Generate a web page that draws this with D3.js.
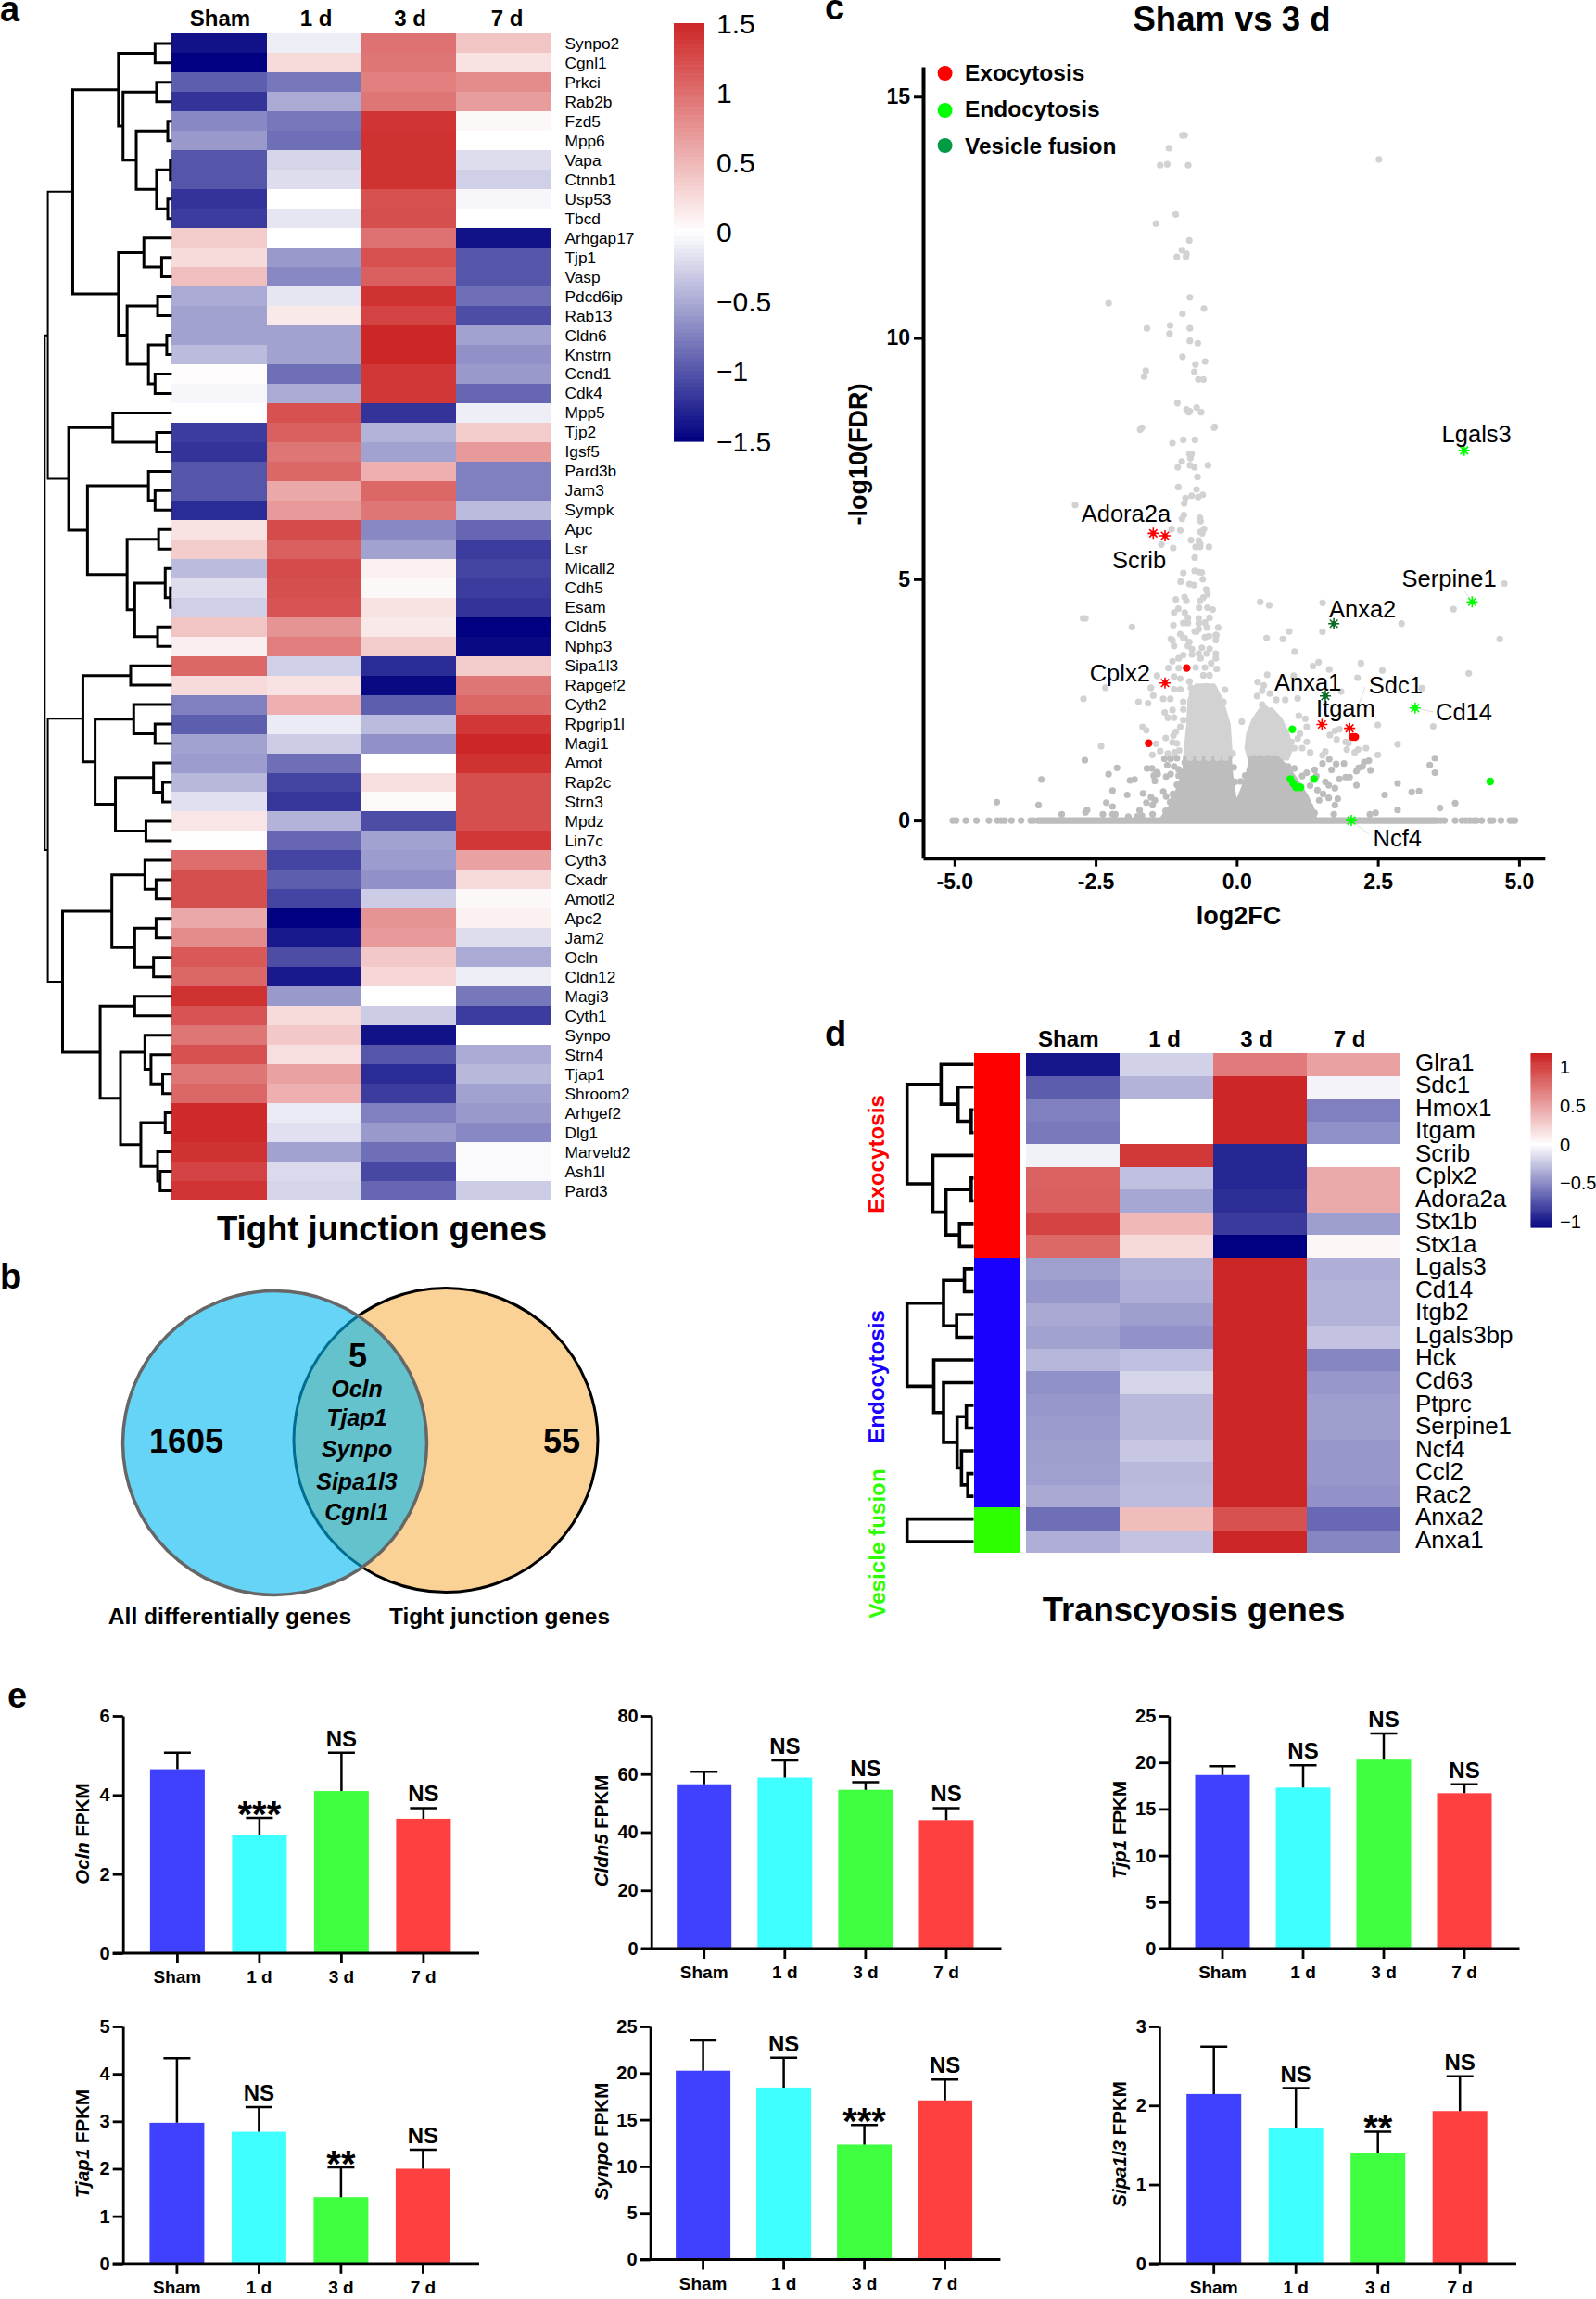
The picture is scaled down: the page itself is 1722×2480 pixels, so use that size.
<!DOCTYPE html>
<html>
<head>
<meta charset="utf-8">
<script src="https://cdn.jsdelivr.net/npm/d3@7"></script>
<style>
html, body { margin: 0; padding: 0; background: #fff; }
svg { display: block; }
text { font-family: "Liberation Sans", Arial, sans-serif; fill: #000; }
</style>
</head>
<body>
<script>
// ---- panel a, heatmap ----
var timeLabels = ["Sham", "1 d", "3 d", "7 d"];
var tightGenes = ["Synpo2","Cgnl1","Prkci","Rab2b","Fzd5","Mpp6","Vapa","Ctnnb1","Usp53","Tbcd","Arhgap17","Tjp1","Vasp","Pdcd6ip","Rab13","Cldn6","Knstrn","Ccnd1","Cdk4","Mpp5","Tjp2","Igsf5","Pard3b","Jam3","Sympk","Apc","Lsr","Micall2","Cdh5","Esam","Cldn5","Nphp3","Sipa1l3","Rapgef2","Cyth2","Rpgrip1l","Magi1","Amot","Rap2c","Strn3","Mpdz","Lin7c","Cyth3","Cxadr","Amotl2","Apc2","Jam2","Ocln","Cldn12","Magi3","Cyth1","Synpo","Strn4","Tjap1","Shroom2","Arhgef2","Dlg1","Marveld2","Ash1l","Pard3"];
var tightValues = [
[-1.4,-0.1,0.98,0.4],[-1.5,0.25,0.95,0.2],[-0.95,-0.8,0.88,0.8],[-1.2,-0.5,0.95,0.68],[-0.7,-0.8,1.4,0.05],
[-0.6,-0.85,1.42,0],[-1.0,-0.25,1.42,-0.2],[-1.0,-0.2,1.42,-0.28],[-1.2,0,1.2,-0.05],[-1.15,-0.15,1.22,0],
[0.35,0,0.98,-1.4],[0.25,-0.6,1.2,-1.0],[0.45,-0.7,1.1,-1.0],[-0.5,-0.15,1.42,-0.85],[-0.55,0.15,1.3,-1.05],
[-0.55,-0.55,1.5,-0.55],[-0.4,-0.55,1.5,-0.65],[0.02,-0.85,1.38,-0.6],[-0.05,-0.5,1.38,-0.9],[0,1.2,-1.2,-0.1],
[-1.15,1.1,-0.45,0.35],[-1.2,0.95,-0.55,0.7],[-1.0,1.05,0.55,-0.75],[-1.0,0.6,1.05,-0.75],[-1.25,0.7,0.95,-0.4],
[0.2,1.25,-0.7,-0.9],[0.35,1.1,-0.55,-1.15],[-0.4,1.25,0.1,-1.1],[-0.2,1.22,0.05,-1.15],[-0.28,1.18,0.2,-1.2],
[0.4,0.75,0.15,-1.5],[0.12,0.9,0.35,-1.45],[1.05,-0.28,-1.25,0.35],[0.25,0.2,-1.45,0.95],[-0.75,0.55,-0.95,1.05],
[-0.95,-0.12,-0.4,1.38],[-0.55,-0.3,-0.65,1.5],[-0.58,-0.85,0,1.42],[-0.42,-1.1,0.22,1.22],[-0.18,-1.18,0.04,1.22],
[0.18,-0.45,-1.05,1.22],[0.01,-0.9,-0.55,1.38],[1.0,-1.1,-0.58,0.65],[1.22,-0.95,-0.65,0.25],[1.22,-1.1,-0.3,0.05],
[0.6,-1.5,0.75,0.1],[0.8,-1.35,0.7,-0.2],[1.15,-1.05,0.38,-0.5],[1.05,-1.35,0.28,-0.1],[1.42,-0.6,0,-0.8],
[1.18,0.25,-0.3,-1.15],[0.95,0.38,-1.4,0],[1.2,0.22,-1.0,-0.5],[0.95,0.65,-1.25,-0.42],[1.05,0.55,-1.15,-0.55],
[1.47,-0.12,-0.75,-0.6],[1.47,-0.18,-0.6,-0.7],[1.42,-0.55,-0.85,-0.03],[1.3,-0.22,-1.08,-0.03],[1.4,-0.25,-0.9,-0.3]
];
// dendrogram: [height, child, child], a plain number is a row
var tightTree = [250,
  [244,
    [195,
      [105, [33,0,1], [96, [30,2,3], [70, [8,4,5], [30, [3,6,7], [8,8,9]]]]],
      [105, [55,10,[20,11,12]], [88, [28,13,14], [46, [10,15,16], [33,17,18]]]]
    ],
    [203,
      [116, 19, [30,20,21]],
      [166, [46,22,[33,23,24]], [88, [26,25,26], [73, [13,27,[3,28,29]], [28,30,31]]]]
    ]
  ],
  [244,
    [175, [81,32,33], [151, [75,34,[33,35,36]], [111, [36,37,[18,38,39]], [51,40,41]]]],
    [215,
      [118, [53,42,[31,43,44]], [73, [31,45,46], [36,47,48]]],
      [141, [73,49,50], [101, [53,51,[41,52,[18,53,54]]], [61, [13,55,56], [28,57,[23,58,59]]]]]
    ]
  ]
];
var tightBarTicks = [1.5, 1, 0.5, 0, -0.5, -1, -1.5];

// ---- panel b, venn ----
var vennCounts = ["1605", "5", "55"];
var vennGenes = ["Ocln", "Tjap1", "Synpo", "Sipa1l3", "Cgnl1"];
var vennNames = ["All differentially genes", "Tight junction genes"];

// ---- panel c, volcano ----
var volcanoGray = [
[2.52,13.7],[-0.924,14.2],[-0.96,14.2],[-1.2,13.93],[-1.356,13.58],[-1.23,13.6],[-0.86,13.58],[-1.08,12.56],[-1.43,12.37],[-0.84,12.02],[-0.97,11.82],[-0.89,11.74],[-1.06,11.68],[-0.9,11.68],[-0.83,10.84],[-2.27,10.72],[-0.58,10.61],[-0.96,10.5],[-1.59,10.2],[-1.18,10.26],[-1.19,10.09],[-0.83,10.2],[-0.83,9.94],[-0.69,9.89],[-0.96,9.61],[-0.56,9.51],[-0.73,9.45],[-0.75,9.3],[-1.61,9.32],[-1.64,9.2],[-0.68,9.14],[-0.59,9.14],[-1.05,8.65],[-0.89,8.52],[-0.83,8.48],[-0.85,8.46],[-0.71,8.56],[-0.63,8.46],[-0.39,8.16],[-1.68,8.14],
[-1.71,8.1],[-0.4,8.14],[-1.138,7.82],[-0.946,7.89],[-0.739,7.89],[-0.837,7.6],[-0.8,7.6],[-0.82,7.51],[-0.974,7.44],[-1.044,7.32],[-0.826,7.36],[-0.749,7.32],[-0.509,7.36],[-0.695,7.12],[-1.034,6.91],[-0.711,6.86],[-0.798,6.73],[-0.908,6.68],[-0.683,6.7],[-0.601,6.75],[-0.93,6.57],[-2.862,6.54],[-0.936,6.33],[-0.969,6.25],[-0.65,6.27],[-0.64,6.2],[-1.154,6.04],[-1.0,6.01],[-0.58,6.04],[-0.645,5.98],[-0.61,5.95],[-0.81,5.81],[-0.673,5.8],[-0.645,5.73],[-0.727,5.67],[-0.65,5.67],[-0.492,5.67],[-1.335,5.72],[-1.126,5.65],[-0.744,5.45],[-0.946,5.13],[-0.744,5.17],[-0.673,5.15],[-0.62,5.14],[-0.601,5.0],[-0.995,4.95],[-0.837,4.9],[-0.76,4.88],[-0.542,4.79],[-0.519,4.69],[-0.924,4.63],[-0.591,4.62],[-1.077,4.58],[-0.892,4.55],[-0.65,4.55],[-0.667,4.41],[-0.519,4.41],[-0.427,4.37],[-1.034,4.39],[-1.11,4.31],[-0.92,4.31],[-2.68,4.19],[-2.72,4.19],[-0.864,4.2],[-0.673,4.19],[-0.481,4.2],[-0.946,4.09],[-0.864,4.09],[-0.673,4.09],[-0.563,4.1],[-1.122,4.05],[-1.855,4.01],[-0.53,4.0],[-0.328,4.0],[-0.673,3.97],[-0.744,3.92],[-1.166,3.76],[-1.0,3.86],[-0.946,3.78],[-0.563,3.8],[-0.371,3.84],
[-0.711,3.92],[-0.92,3.78],[-1.138,3.73],[-0.84,3.7],[-0.864,3.62],[-0.492,3.82],[-0.361,3.84],[-0.371,3.74],[-1.11,3.62],[-0.793,3.55],[-0.617,3.58],[-0.481,3.56],[-0.673,3.46],[-0.535,3.46],[-0.371,3.46],[-0.793,3.44],[-0.946,3.43],[-1.028,3.36],[-1.138,3.3],[-0.64,3.36],[-0.371,3.36],[-0.453,3.26],[-1.209,3.16],[-1.028,3.16],[-0.727,3.17],[-0.563,3.17],[-0.355,3.14],[-1.412,3.0],[-1.11,2.98],[-1.0,2.94],[-0.591,3.01],[-0.481,3.01],[-0.837,2.88],[-1.52,2.75],[-2.325,2.75],[-1.11,2.72],[-1.0,2.72],[-0.81,2.75],[-0.535,2.78],[-0.207,2.71],[-1.478,2.59],[-0.79,2.63],[-0.563,2.63],[-0.399,2.63],[-2.714,2.52],[-1.302,2.52],[-1.176,2.52],[-1.74,2.46],[-1.57,2.43],[-0.946,2.46],[-0.8,2.43],[-0.66,2.5],[-0.49,2.46],[-0.235,2.46],[-1.275,2.24],[-1.138,2.29],[-0.946,2.3],[-0.75,2.3],[-0.5,2.27],[-0.33,2.3],[-1.22,2.13],[-1.11,2.13],[-0.946,2.08],[-0.837,2.1],[-0.7,2.05],[-0.45,2.11],[-0.235,2.08],[-1.668,1.94],[-1.6,1.87],[-1.0,1.94],[-1.077,1.84],[-0.81,1.92],[-1.258,1.71],[-1.122,1.76],[-1.138,1.62],[-1.06,1.6],[-1.428,1.59],[-2.402,1.54],[-1.357,1.44],[-1.22,1.39],[-1.1,1.41],[-1.02,1.45],[-0.07,1.39],[-1.494,1.36],
[-2.69,1.25],[-2.12,1.09],[-2.27,0.96],[-3.46,0.85],[-1.89,0.83],[-1.81,0.85],[-2.2,0.62],[-1.94,0.53],[-4.25,0.38],[-3.51,0.32],[-2.31,0.37],[-2.2,0.29],[-2.65,0.22],[-2.68,0.17],[-3.1,0.13],[-2.37,0.13],[-2.2,0.13],[-2.15,0.13],[-1.72,0.21],[-1.66,0.56],[-1.6,0.37],[-1.52,0.48],[-1.45,0.42],[-1.49,0.32],[-1.49,0.13],[-1.92,0.08],[-1.77,0.08],[-1.68,0.1],[-1.59,1.08],[-1.5,1.08],[-1.41,1.0],[-1.47,0.93],[-1.4,0.96],[-1.45,0.82],[-1.28,1.28],[-1.17,1.28],[-1.06,1.29],[-1.23,1.15],[-1.11,1.12],[-1.03,1.06],[-1.03,0.93],[-1.25,0.91],[-1.17,0.96],[-1.3,0.6],[-1.25,0.5],[-1.13,0.55],[-1.26,0.2],[-1.18,0.38],[-1.1,0.16],
[-0.83,1.3],[-0.67,1.3],[-0.5,1.3],[-0.34,1.3],[-0.2,1.3],[-0.92,1.2],[-0.98,1.0],[-1.06,0.74],[-1.12,0.45],[-0.05,1.1],[-0.03,0.8],
[0.417,4.53],[0.575,4.46],[1.522,4.51],[3.84,4.38],[4.74,4.91],[2.92,4.08],[4.66,3.76],[0.93,3.92],[1.52,3.91],[0.53,3.78],[0.816,3.76],[1.025,3.5],[1.45,3.28],[1.35,3.2],[1.64,3.13],[2.2,3.26],[2.58,3.11],[4.11,3.05],[0.54,3.02],[1.01,3.0],[2.14,2.96],[0.37,2.87],[0.48,2.8],[3.28,2.74],[1.85,2.67],[0.45,2.69],[0.36,2.58],[0.586,2.63],[0.7,2.5],[0.86,2.5],[1.08,2.53],[0.45,2.4],[0.5,2.32],[1.215,2.11],[1.1,2.17],[0.09,2.05],[0.63,2.14],[0.75,2.09],[0.52,2.14],[0.44,2.05],[2.5,1.98],[3.48,1.95],[1.24,1.94],[1.12,1.8],[1.24,1.63],[1.74,1.86],[1.82,1.89],[1.77,1.68],[1.93,1.63],[1.98,1.6],[1.65,1.77],[2.85,1.58],[2.29,1.5],[2.15,1.47],[2.09,1.41],[1.95,1.47],[2.5,1.36],[1.57,1.43],[1.52,1.35],[1.3,1.41],[1.02,1.5],[1.16,1.5],[0.97,1.63],[1.08,1.7],
[3.51,1.29],[3.42,1.15],[3.51,0.99],[2.34,1.24],[2.37,1.04],[2.26,1.21],[2.23,1.12],[2.16,1.09],[2.12,1.02],[2.0,0.9],[1.93,0.9],[1.82,0.86],[2.12,0.73],[1.74,0.67],[1.63,0.73],[1.57,0.8],[1.9,1.18],[1.76,1.17],[1.64,1.27],[1.68,1.05],[1.52,1.18],[1.38,1.05],[1.41,0.92],[1.24,0.99],[2.85,0.77],[3.1,0.59],[3.23,0.61],[2.62,0.53],[3.87,0.36],[3.6,0.26],[2.85,0.22],[2.46,0.16],[2.36,0.13],[1.79,0.45],[1.74,0.32],[1.72,0.13],[1.53,0.55],[1.63,0.47],[1.38,0.16],[1.3,0.29],
[0.3,1.29],[0.42,1.29],[0.55,1.29],[0.68,1.28],[0.07,0.81],[0.15,0.93],[0.23,1.05],[0.91,1.12],[1.02,1.08],[1.16,0.92],[1.3,0.72],[1.43,0.63],[1.46,0.42],
[-5.03,0],[-4.97,0],[-4.8,0],[-4.61,0],[-4.39,0],[-4.24,0],[-4.17,0],[-4.11,0],[-3.99,0],[-3.82,0],[-3.65,0],[-3.6,0],[3.61,0],[3.68,0],[3.87,0],[3.99,0],[4.06,0],[4.13,0],[4.2,0],[4.25,0],[4.34,0],[4.49,0],[4.54,0],[4.68,0],[4.84,0],[4.88,0],[4.93,0]
];
// the unresolved mass of points: [log10, left log2FC, right log2FC]
var massDarkLeft = [[1.3,-0.92,-0.12],[1,-0.93,-0.1],[0.74,-1.02,-0.07],[0.35,-1.14,-0.02],[0.1,-1.3,0.3],[0,-1.35,0.5]];
var massDarkRight = [[1.3,0.24,0.72],[1.1,0.22,0.9],[0.8,0.15,1.08],[0.5,0.05,1.24],[0.2,-0.1,1.36],[0,-0.1,1.4]];
var massLightLeft = [[2.8,-0.72,-0.4],[2.5,-0.84,-0.27],[2.0,-0.86,-0.14],[1.3,-0.92,-0.1]];
var massLightRight = [[2.3,0.42,0.62],[2.1,0.3,0.78],[1.8,0.2,0.9],[1.5,0.17,0.97],[1.28,0.22,0.9]];
var zeroBand = [-3.52, 3.54];
var exoStars = [[-1.478,5.95],[-1.27,5.9],[-1.27,2.85],[1.51,1.99],[2.0,1.91]];
var exoDots = [[-0.886,3.16],[-1.56,1.6],[2.05,1.73],[2.1,1.73]];
var endoStars = [[4.03,7.67],[4.17,4.53],[3.16,2.33],[2.03,0]];
var endoDots = [[0.985,1.89],[0.95,0.86],[1.0,0.77],[1.05,0.69],[1.13,0.69],[1.37,0.86],[4.49,0.81]];
var fusionStars = [[1.72,4.08],[1.57,2.58]];
var legendNames = ["Exocytosis", "Endocytosis", "Vesicle fusion"];
var legendColors = ["#ff0000", "#00ff00", "#009a44"];

// ---- panel d, heatmap ----
var transGenes = ["Glra1","Sdc1","Hmox1","Itgam","Scrib","Cplx2","Adora2a","Stx1b","Stx1a","Lgals3","Cd14","Itgb2","Lgals3bp","Hck","Cd63","Ptprc","Serpine1","Ncf4","Ccl2","Rac2","Anxa2","Anxa1"];
var transValues = [
[-1.0,-0.2,0.7,0.5],[-0.7,-0.33,1.15,-0.05],[-0.55,0,1.15,-0.55],[-0.58,0,1.15,-0.48],[-0.06,1.05,-0.93,0],
[0.83,-0.27,-0.93,0.45],[0.85,-0.38,-0.9,0.45],[1.0,0.37,-0.85,-0.42],[0.8,0.2,-1.1,0.05],[-0.41,-0.33,1.15,-0.35],
[-0.45,-0.35,1.15,-0.33],[-0.37,-0.42,1.15,-0.33],[-0.4,-0.47,1.15,-0.26],[-0.31,-0.27,1.15,-0.52],[-0.48,-0.18,1.15,-0.45],
[-0.45,-0.3,1.15,-0.42],[-0.43,-0.3,1.15,-0.42],[-0.42,-0.24,1.15,-0.45],[-0.41,-0.3,1.15,-0.45],[-0.37,-0.29,1.15,-0.47],
[-0.62,0.35,0.92,-0.65],[-0.35,-0.26,1.15,-0.52]
];
var transGroups = [0,0,0,0,0,0,0,0,0,1,1,1,1,1,1,1,1,1,1,1,2,2];
var groupColors = ["#ff0000", "#1a00ff", "#2dff00"];
var transTrees = [
  [137, [67,0,[32,1,[5,2,3]]], [84,4,[57,[5,5,6],[29,7,8]]]],
  [137, [62,[19,9,10],[35,11,12]], [82,13,[62,14,[34,[15,15,16],[25,17,[12,18,19]]]]]],
  [137, 20, 21]
];
var transBarTicks = [1, 0.5, 0, -0.5, -1];

// ---- panel e, bars ----
var barColors = ["#4040ff", "#40ffff", "#40ff40", "#ff4040"];
var oclnMean = [4.65, 3.0, 4.1, 3.4], oclnErr = [5.07, 3.42, 5.07, 3.67], oclnSig = ["", "***", "NS", "NS"];
var cldn5Mean = [56.5, 58.8, 54.6, 44.2], cldn5Err = [60.8, 64.7, 57.2, 48.3], cldn5Sig = ["", "NS", "NS", "NS"];
var tjp1Mean = [18.65, 17.3, 20.3, 16.7], tjp1Err = [19.6, 19.7, 23.1, 17.66], tjp1Sig = ["", "NS", "NS", "NS"];
var tjap1Mean = [2.97, 2.78, 1.4, 2.0], tjap1Err = [4.33, 3.3, 2.03, 2.4], tjap1Sig = ["", "NS", "**", "NS"];
var synpoMean = [20.26, 18.45, 12.33, 17.07], synpoErr = [23.5, 21.64, 14.44, 19.3], synpoSig = ["", "NS", "***", "NS"];
var sipaMean = [2.145, 1.71, 1.4, 1.93], sipaErr = [2.745, 2.22, 1.67, 2.37], sipaSig = ["", "NS", "**", "NS"];

var svg = d3.select("body").append("svg").attr("width", 1722).attr("height", 2480);

function label(s, x, y, size, opts) {
	opts = opts || {};
	return svg.append("text").text(s)
		.attr("x", x).attr("y", y)
		.attr("font-size", size)
		.attr("font-weight", opts.bold ? "bold" : "normal")
		.attr("font-style", opts.italic ? "italic" : "normal")
		.attr("text-anchor", opts.anchor || "start")
		.style("fill", opts.fill || "#000");
}
function vertical(s, x, y, size, fill) {
	label(s, 0, 0, size, {bold: true, anchor: "middle", fill: fill})
		.attr("transform", "translate(" + x + "," + y + ") rotate(-90)");
}

// draws the tree and gives back where its top node sits
function dendro(node, xScale, yScale, width) {
	if (typeof node === "number") return {x: xScale(0), y: yScale(node)};
	var a = dendro(node[1], xScale, yScale, width);
	var b = dendro(node[2], xScale, yScale, width);
	var x = xScale(node[0]);
	// the outermost joins of the big tree are thinner
	svg.append("path")
		.attr("d", "M" + a.x + "," + a.y + "H" + x + "V" + b.y + "H" + b.x)
		.attr("fill", "none").attr("stroke", "#000")
		.attr("stroke-width", node[0] >= 244 ? 2 : width);
	return {x: x, y: (a.y + b.y) / 2};
}

function heatmap(genes, values, color, box) {
	var x = d3.scaleBand().domain(timeLabels).range([box.x0, box.x1]);
	var y = d3.scaleBand().domain(d3.range(genes.length)).range([box.y0, box.y1]);
	values.forEach(function(row, i) {
		svg.append("g").selectAll("rect").data(row).join("rect")
			.attr("x", function(d, j) { return x(timeLabels[j]); })
			.attr("y", y(i))
			.attr("width", x.bandwidth())
			.attr("height", y.bandwidth())
			.attr("shape-rendering", "crispEdges")
			.attr("fill", function(d) { return color(d); });
	});
	genes.forEach(function(g, i) {
		label(g, box.labelX, y(i) + y.bandwidth() / 2 + box.labelDy, box.labelSize).attr("dominant-baseline", "central");
	});
	return y;
}

function colorBar(color, bar, ticks, x0, x1, size, textX) {
	var steps = d3.range(0, 100);
	var span = bar.domain();
	svg.append("g").selectAll("rect").data(steps).join("rect")
		.attr("x", x0)
		.attr("width", x1 - x0)
		.attr("y", function(i) { return bar(span[1] + (span[0] - span[1]) * i / 100); })
		.attr("height", function(i) { return Math.abs(bar(span[0]) - bar(span[1])) / 100 + 0.6; })
		.attr("fill", function(i) { return color(span[1] + (span[0] - span[1]) * (i + 0.5) / 100); });
	ticks.forEach(function(t) {
		label(String(t).replace("-", "\u2212"), textX, bar(t), size).attr("dominant-baseline", "central");
	});
}

// ---- a ----
label("a", 0, 23, 38, {bold: true});
var colorA = d3.scaleLinear().domain([-1.5, 0, 1.5]).range(["#000080", "#ffffff", "#cd2626"]);
var rowA = heatmap(tightGenes, tightValues, colorA, {x0: 185.4, x1: 594, y0: 36.4, y1: 1295, labelX: 609.5, labelSize: 17.3, labelDy: 0});
[237.5, 341, 442.7, 547].forEach(function(cx, i) { label(timeLabels[i], cx, 28, 24, {bold: true, anchor: "middle"}); });
dendro(tightTree, d3.scaleLinear().domain([0, 250]).range([185.4, 48.3]),
	function(i) { return rowA(i) + rowA.bandwidth() / 2; }, 3);
colorBar(colorA, d3.scaleLinear().domain([-1.5, 1.5]).range([476, 25]), tightBarTicks, 727, 760, 30, 773);
label("Tight junction genes", 412, 1338, 36.5, {bold: true, anchor: "middle"});

// ---- b ----
label("b", 0, 1390, 38, {bold: true});
svg.append("circle").attr("cx", 481).attr("cy", 1553.5).attr("r", 164)
	.attr("fill", "#fbd296").attr("stroke", "#000").attr("stroke-width", 3);
svg.append("circle").attr("cx", 296.5).attr("cy", 1556.5).attr("r", 164)
	.attr("fill", "rgba(0,183,242,0.6)").attr("stroke", "#666").attr("stroke-width", 3.5);
label(vennCounts[0], 201, 1567, 36, {bold: true, anchor: "middle"});
label(vennCounts[1], 386, 1475, 36, {bold: true, anchor: "middle"});
label(vennCounts[2], 606, 1567, 36, {bold: true, anchor: "middle"});
[1507, 1538, 1572, 1607, 1640].forEach(function(y, i) {
	label(vennGenes[i], 385, y, 25, {bold: true, italic: true, anchor: "middle"});
});
label(vennNames[0], 248, 1752, 24.6, {bold: true, anchor: "middle"});
label(vennNames[1], 539, 1752, 24.4, {bold: true, anchor: "middle"});

// ---- c ----
label("c", 890, 21, 38, {bold: true});
label("Sham vs 3 d", 1329, 33, 36.5, {bold: true, anchor: "middle"});
var vx = d3.scaleLinear().domain([-5.555, 5.458]).range([996, 1666.8]);
var vy = d3.scaleLinear().domain([-0.78, 15.62]).range([925.7, 72]);

var mass = d3.area().y(function(d) { return vy(d[0]); })
	.x0(function(d) { return vx(d[1]); }).x1(function(d) { return vx(d[2]); });
[[massLightLeft, "#d2d2d2"], [massLightRight, "#d2d2d2"], [massDarkLeft, "#bdbdbd"], [massDarkRight, "#bdbdbd"]].forEach(function(m) {
	svg.append("path").attr("d", mass(m[0])).attr("fill", m[1])
		.attr("stroke", m[1]).attr("stroke-width", 4).attr("stroke-linejoin", "round");
});
svg.append("line").attr("x1", vx(zeroBand[0])).attr("x2", vx(zeroBand[1]))
	.attr("y1", vy(0)).attr("y2", vy(0))
	.attr("stroke", "#bdbdbd").attr("stroke-width", 7.4).attr("stroke-linecap", "round");
svg.append("g").selectAll("circle").data(volcanoGray).join("circle")
	.attr("cx", function(d) { return vx(d[0]); })
	.attr("cy", function(d) { return vy(d[1]); })
	.attr("r", 3.6)
	.attr("fill", function(d) { return d[1] < 1.3 ? "#bdbdbd" : "#d2d2d2"; });

function dots(list, fill) {
	svg.append("g").selectAll("circle").data(list).join("circle")
		.attr("cx", function(d) { return vx(d[0]); })
		.attr("cy", function(d) { return vy(d[1]); })
		.attr("r", 4.2).attr("fill", fill);
}
// 8 ray star with a dot in the middle
var starSymbol = {
	draw: function(ctx, size) {
		var r = Math.sqrt(size);
		for (var k = 0; k < 4; k++) {
			var a = k * Math.PI / 4;
			ctx.moveTo(-r * Math.cos(a), -r * Math.sin(a));
			ctx.lineTo(r * Math.cos(a), r * Math.sin(a));
		}
	}
};
function stars(list, fill) {
	var g = svg.append("g").selectAll("g").data(list).join("g")
		.attr("transform", function(d) { return "translate(" + vx(d[0]) + "," + vy(d[1]) + ")"; });
	g.append("path").attr("d", d3.symbol().type(starSymbol).size(36))
		.attr("fill", "none").attr("stroke", fill).attr("stroke-width", 1.6);
	g.append("circle").attr("r", 2.8).attr("fill", fill);
}
dots(exoDots, "#ff0000");
dots(endoDots, "#00ff00");
stars(exoStars, "#ff0000");
stars(endoStars, "#00ff00");
stars(fusionStars, "#0b6b22");

[[1473,741,1465,763],[1532,765,1547,768],[1463,889,1477,900],[1580,638,1586,645]].forEach(function(l) {
	svg.append("line").attr("x1", l[0]).attr("y1", l[1]).attr("x2", l[2]).attr("y2", l[3])
		.attr("stroke", "#dddddd").attr("stroke-width", 1);
});
[["Adora2a",1166.7,563],["Scrib",1200,612.7],["Cplx2",1175.7,735],["Serpine1",1512.6,633],["Anxa2",1434,666],["Anxa1",1375,745],["Sdc1",1476.7,748],["Itgam",1420,773],["Cd14",1549,776.7],["Ncf4",1481.5,913],["Lgals3",1555.6,477]].forEach(function(l) {
	label(l[0], l[1], l[2], 25.5);
});

[79, 119, 157].forEach(function(y, i) {
	svg.append("circle").attr("cx", 1019.6).attr("cy", y).attr("r", 8).attr("fill", legendColors[i]);
});
[87, 126, 166].forEach(function(y, i) { label(legendNames[i], 1041, y, 24.5, {bold: true}); });

function styleAxis(g, width, size) {
	g.selectAll(".domain").attr("stroke", "#000").attr("stroke-width", width);
	g.selectAll(".tick line").attr("stroke", "#000").attr("stroke-width", width === 4 ? 3 : width);
	g.selectAll("text").attr("font-size", size).attr("font-weight", "bold")
		.attr("font-family", '"Liberation Sans", Arial, sans-serif');
}
var vAxisY = svg.append("g").attr("transform", "translate(996,0)")
	.call(d3.axisLeft(vy).tickValues([0, 5, 10, 15]).tickSize(10).tickSizeOuter(0).tickPadding(4).tickFormat(function(d) { return String(d); }));
styleAxis(vAxisY, 4, 23);
var vAxisX = svg.append("g").attr("transform", "translate(0,925.7)")
	.call(d3.axisBottom(vx).tickValues([-5, -2.5, 0, 2.5, 5]).tickSize(9).tickSizeOuter(0).tickPadding(8).tickFormat(function(d) { return d.toFixed(1); }));
styleAxis(vAxisX, 4, 23);
label("log2FC", 1336.5, 997, 27, {bold: true, anchor: "middle"});
vertical("-log10(FDR)", 935, 490, 27);

// ---- d ----
label("d", 890, 1128, 38, {bold: true});
var colorD = d3.scaleLinear().domain([-1.1, 0, 1.15]).range(["#000080", "#ffffff", "#cd2626"]);
var rowD = heatmap(transGenes, transValues, colorD, {x0: 1107, x1: 1511.4, y0: 1136, y1: 1675.4, labelX: 1527, labelSize: 26, labelDy: -2.5});
svg.append("g").selectAll("rect").data(transGroups).join("rect")
	.attr("x", 1050.5).attr("width", 49.5)
	.attr("y", function(d, i) { return rowD(i); })
	.attr("height", rowD.bandwidth())
	.attr("shape-rendering", "crispEdges")
	.attr("fill", function(d) { return groupColors[d]; });
[1152.8, 1256.6, 1355.7, 1456].forEach(function(cx, i) { label(timeLabels[i], cx, 1129, 24, {bold: true, anchor: "middle"}); });
var dendroX = d3.scaleLinear().domain([0, 137]).range([1050.5, 978.7]);
transTrees.forEach(function(t) {
	dendro(t, dendroX, function(i) { return rowD(i) + rowD.bandwidth() / 2; }, 3.6);
});
colorBar(colorD, d3.scaleLinear().domain([-1.07, 1.18]).range([1324, 1136]), transBarTicks, 1651.5, 1674, 20, 1683);
vertical(legendNames[0], 954, 1245, 24.2, groupColors[0]);
vertical(legendNames[1], 954, 1485, 24.2, groupColors[1]);
vertical(legendNames[2], 955, 1665, 24.2, groupColors[2]);
label("Transcyosis genes", 1288, 1749, 36.5, {bold: true, anchor: "middle"});

// ---- e ----
label("e", 8, 1842, 38, {bold: true});

function barPanel(mean, err, sig, gene, domainMax, ticks, box) {
	var step = box.step;
	var x = d3.scaleBand().domain(timeLabels)
		.range([box.c0 - step / 2, box.c0 - step / 2 + step * 4])
		.paddingInner(1 - 59 / step).paddingOuter((1 - 59 / step) / 2);
	var y = d3.scaleLinear().domain([0, domainMax]).range([box.y0, box.y1]);
	var cx = function(i) { return x(timeLabels[i]) + x.bandwidth() / 2; };

	svg.append("g").selectAll("rect").data(mean).join("rect")
		.attr("x", function(d, i) { return x(timeLabels[i]); })
		.attr("width", x.bandwidth())
		.attr("y", function(d) { return y(d); })
		.attr("height", function(d) { return box.y0 - y(d); })
		.attr("fill", function(d, i) { return barColors[i]; });
	err.forEach(function(e, i) {
		svg.append("path")
			.attr("d", "M" + cx(i) + "," + y(mean[i]) + "V" + y(e) + "M" + (cx(i) - 14.5) + "," + y(e) + "H" + (cx(i) + 14.5))
			.attr("fill", "none").attr("stroke", "#000").attr("stroke-width", 2.5);
		if (sig[i] === "NS") label("NS", cx(i), y(e) - 7, 24, {bold: true, anchor: "middle"});
		else if (sig[i]) label(sig[i], cx(i), y(e) + 10, 40, {bold: true, anchor: "middle"});
	});

	var gy = svg.append("g").attr("transform", "translate(" + box.axisX + ",0)")
		.call(d3.axisLeft(y).tickValues(ticks).tickSize(11).tickSizeOuter(0).tickPadding(3).tickFormat(function(d) { return String(d); }));
	styleAxis(gy, 2.8, 20);
	var gx = svg.append("g").attr("transform", "translate(0," + box.y0 + ")")
		.call(d3.axisBottom(x).tickSize(11).tickPadding(8));
	styleAxis(gx, 2.8, 19);
	gx.select(".domain").remove();
	svg.append("line").attr("x1", box.axisX - 11).attr("x2", box.axisEnd)
		.attr("y1", box.y0).attr("y2", box.y0)
		.attr("stroke", "#000").attr("stroke-width", 2.8);

	var t = label("", 0, 0, 20.5, {bold: true, anchor: "middle"})
		.attr("transform", "translate(" + box.titleX + "," + box.titleY + ") rotate(-90)");
	t.append("tspan").attr("font-style", "italic").text(gene);
	t.append("tspan").text(" FPKM");
}

barPanel(oclnMean, oclnErr, oclnSig, "Ocln", 6, [0, 2, 4, 6], {c0: 191.4, step: 88.5, axisX: 132.7, axisEnd: 517, y0: 2107, y1: 1851, titleX: 96, titleY: 1978});
barPanel(cldn5Mean, cldn5Err, cldn5Sig, "Cldn5", 80, [0, 20, 40, 60, 80], {c0: 759.7, step: 87.1, axisX: 702.7, axisEnd: 1080.5, y0: 2102, y1: 1851, titleX: 655.5, titleY: 1975});
barPanel(tjp1Mean, tjp1Err, tjp1Sig, "Tjp1", 25, [0, 5, 10, 15, 20, 25], {c0: 1319, step: 87, axisX: 1261.3, axisEnd: 1639.5, y0: 2102, y1: 1851, titleX: 1214.6, titleY: 1974});
barPanel(tjap1Mean, tjap1Err, tjap1Sig, "Tjap1", 5, [0, 1, 2, 3, 4, 5], {c0: 190.9, step: 88.5, axisX: 132.7, axisEnd: 517, y0: 2441.8, y1: 2186, titleX: 96, titleY: 2312.6});
barPanel(synpoMean, synpoErr, synpoSig, "Synpo", 25, [0, 5, 10, 15, 20, 25], {c0: 758.6, step: 87, axisX: 701.6, axisEnd: 1079.4, y0: 2437.5, y1: 2186, titleX: 655.5, titleY: 2310});
barPanel(sipaMean, sipaErr, sipaSig, "Sipa1l3", 3, [0, 1, 2, 3], {c0: 1309.7, step: 88.5, axisX: 1250.9, axisEnd: 1636, y0: 2441.8, y1: 2186, titleX: 1214.6, titleY: 2313});
</script>
</body>
</html>
